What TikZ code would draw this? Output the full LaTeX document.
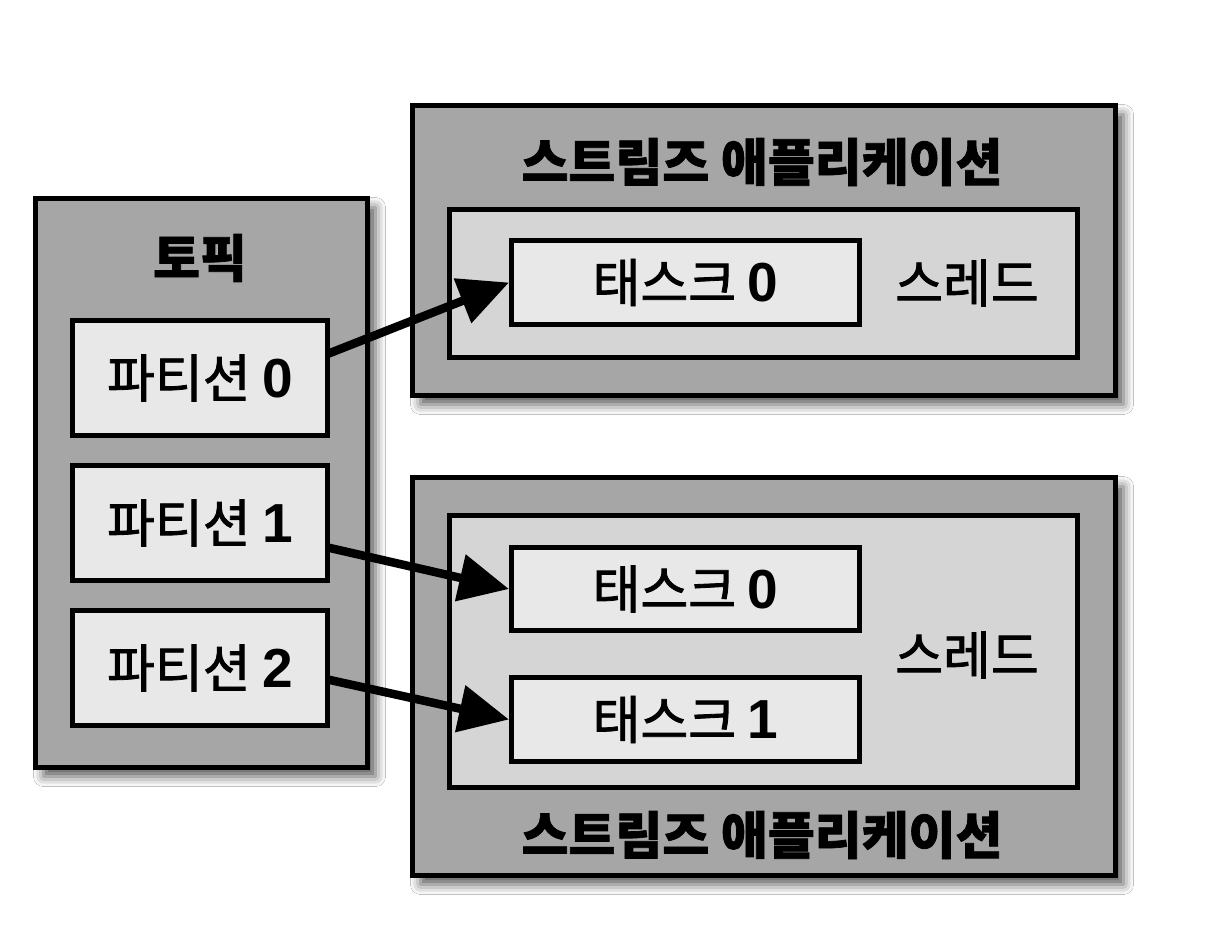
\documentclass[tikz,border=0pt]{standalone}
\usepackage{fontspec}
\setmainfont{Noto Sans CJK KR}
\newfontfamily\medfont{Noto Sans CJK KR}[FakeBold=1.6]
\newfontfamily\heavyfont{Noto Sans CJK KR}[BoldFeatures={FakeBold=1.4}]
\newfontfamily\digitfont{Liberation Sans}
\newcommand{\dg}[1]{{\digitfont\bfseries\fontsize{55}{58}\selectfont #1}}
\usetikzlibrary{shadows.blur,arrows.meta,calc}
\definecolor{outergray}{HTML}{A6A6A6}
\definecolor{threadgray}{HTML}{D5D5D5}
\definecolor{innergray}{HTML}{E8E8E8}
\tikzset{
  outerbox/.style={draw=black, line width=5pt, fill=outergray, inner sep=0pt,
    blur shadow={shadow xshift=8pt, shadow yshift=-9pt, shadow blur radius=10pt, shadow opacity=65}},
  threadbox/.style={draw=black, line width=5pt, fill=threadgray, inner sep=0pt},
  innerbox/.style={draw=black, line width=5pt, fill=innergray, inner sep=0pt,
    font=\medfont\fontsize{52}{58}\selectfont},
  titletext/.style={font=\heavyfont\bfseries\fontsize{51}{58}\selectfont, inner sep=0pt},
  plaintext/.style={font=\medfont\fontsize{52}{58}\selectfont, inner sep=0pt},
  flow/.style={line width=8.5pt, -{Triangle[length=50pt,width=46pt]}, shorten <=-2pt}
}
\begin{document}
\begin{tikzpicture}[x=1pt,y=-1pt]
\useasboundingbox (0,0) rectangle (1224,946);
\fill[white] (0,0) rectangle (1224,946);
% topic
\node[outerbox, minimum width=332pt, minimum height=569pt] (topic) at (201.5,483) {};
\node[titletext] (topiclbl) at (200,258) {토픽};
\node[innerbox, minimum width=255pt, minimum height=115pt] (p0) at (200,378) {파티션 \dg{0}};
\node[innerbox, minimum width=255pt, minimum height=115pt] (p1) at (200,523) {파티션 \dg{1}};
\node[innerbox, minimum width=255pt, minimum height=115pt] (p2) at (200,668) {파티션 \dg{2}};
% app 1
\node[outerbox, minimum width=703pt, minimum height=290pt] (app1) at (764,250.5) {};
\node[titletext] (app1lbl) at (762,162) {스트림즈 애플리케이션};
\node[threadbox, minimum width=628pt, minimum height=148pt] (thr1) at (763.5,283.5) {};
\node[innerbox, minimum width=348pt, minimum height=84pt] (t10) at (685.5,282.5) {태스크 \dg{0}};
\node[plaintext] (thr1lbl) at (967,283) {스레드};
% app 2
\node[outerbox, minimum width=703pt, minimum height=398pt] (app2) at (764,676.5) {};
\node[titletext] (app2lbl) at (762,835) {스트림즈 애플리케이션};
\node[threadbox, minimum width=628pt, minimum height=272pt] (thr2) at (763.5,651.5) {};
\node[innerbox, minimum width=348pt, minimum height=83pt] (t20) at (685.5,589) {태스크 \dg{0}};
\node[innerbox, minimum width=348pt, minimum height=84pt] (t21) at (685.5,719.5) {태스크 \dg{1}};
\node[plaintext] (thr2lbl) at (967,655) {스레드};
% arrows
\draw[flow] ([yshift=25pt]p0.east) -- (t10.west);
\draw[flow] ([yshift=-25pt]p1.east) -- (t20.west);
\draw[flow] ([yshift=-12pt]p2.east) -- (t21.west);
\end{tikzpicture}
\end{document}
